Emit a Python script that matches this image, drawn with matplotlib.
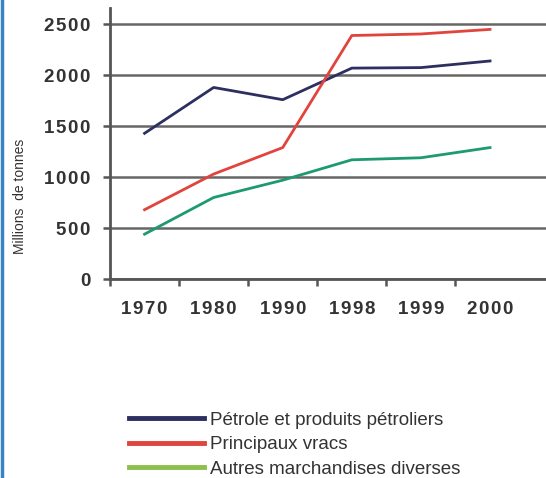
import matplotlib.pyplot as plt
from matplotlib.lines import Line2D

years = ["1970", "1980", "1990", "1998", "1999", "2000"]
petrole = [1430, 1880, 1760, 2070, 2075, 2140]
vracs = [680, 1030, 1290, 2390, 2405, 2450]
autres = [440, 800, 970, 1170, 1190, 1290]
labels = ["Pétrole et produits pétroliers", "Principaux vracs",
          "Autres marchandises diverses"]

c_blue = "#2c2f60"
c_red = "#e0443c"
c_green = "#1e9a70"
c_green_leg = "#8cc04c"
grey = "#555555"

plt.rcParams["font.family"] = ["Liberation Sans", "DejaVu Sans"]

fig = plt.figure(figsize=(5.46, 4.78), dpi=100)
ax = fig.add_axes([110 / 546, 1 - 279 / 478, 1 - 110 / 546, 271 / 478])

x = range(len(years))
ax.plot(x, petrole, color=c_blue, lw=2)
ax.plot(x, vracs, color=c_red, lw=2)
ax.plot(x, autres, color=c_green, lw=2)

ax.set_xlim(-0.5, 5.81)
ax.set_ylim(0, 2660)
ax.set_yticks([0, 500, 1000, 1500, 2000, 2500])
ax.set_yticklabels(["\u200a".join(str(v)) for v in [0, 500, 1000, 1500, 2000, 2500]],
                   fontsize=13.5, fontweight="bold", color="#333333")
ax.set_xticks([i - 0.5 for i in x])
ax.set_xticklabels([])
for i, y in enumerate(years):
    ax.text(i, -0.08, "\u200a".join(y), transform=ax.get_xaxis_transform(),
            ha="center", va="top", fontsize=13.5, fontweight="bold", color="#333333")

ax.grid(axis="y", color="#666666", lw=1.8)
ax.set_axisbelow(True)
for s in ["top", "right"]:
    ax.spines[s].set_visible(False)
for s in ["left", "bottom"]:
    ax.spines[s].set_color(grey)
    ax.spines[s].set_linewidth(2)
ax.tick_params(axis="y", length=5, width=1.8, color=grey, pad=9)
ax.tick_params(axis="x", length=5, width=1.8, color=grey)

fig.text(20 / 546, 1 - 196 / 478, "Millions  de tonnes", rotation=90,
         ha="center", va="center", fontsize=10, color="#333333")

handles = [Line2D([], [], color=c_blue, lw=3.5),
           Line2D([], [], color=c_red, lw=3.5),
           Line2D([], [], color=c_green_leg, lw=3.5)]
fig.legend(handles, labels, loc="upper left", bbox_to_anchor=(112 / 546, 1 - 395 / 478),
           frameon=False, fontsize=13.5, handlelength=4.0, handletextpad=0.3,
           labelspacing=0.38, labelcolor="#333333")

fig.add_artist(Line2D([1.5 / 546, 1.5 / 546], [0, 1], color="#3b82c4", lw=2.5))

fig.savefig("out.png", dpi=100)
